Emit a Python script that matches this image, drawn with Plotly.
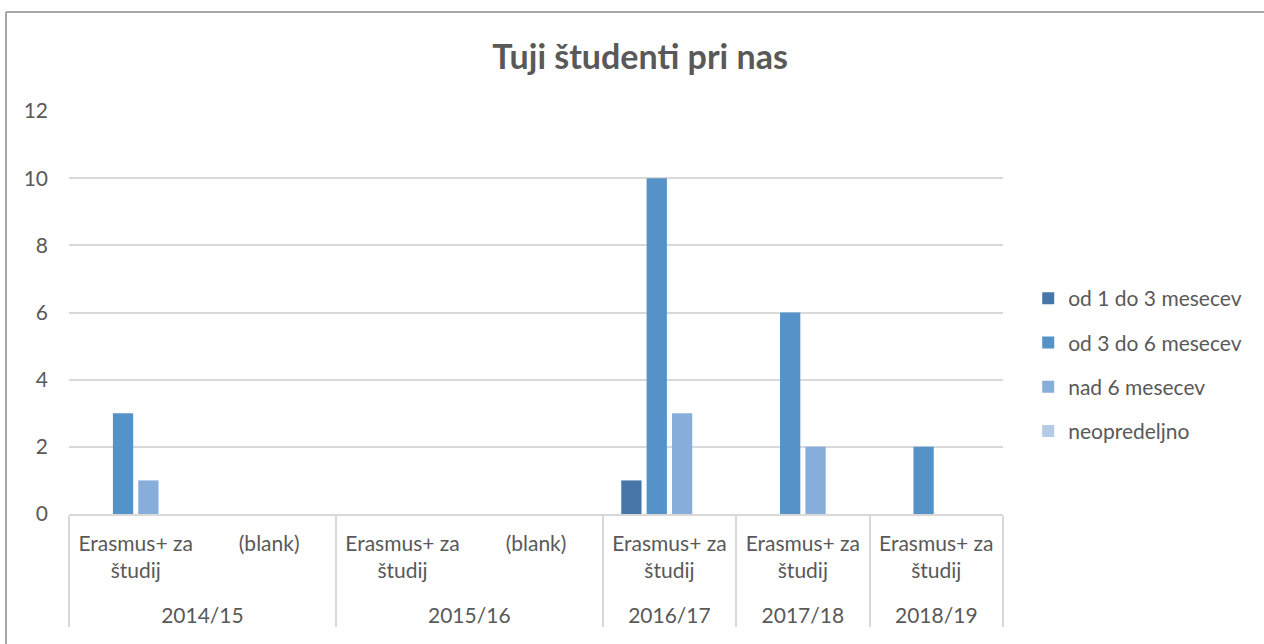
import plotly.graph_objects as go

years = ["2014/15", "2014/15", "2015/16", "2015/16", "2016/17", "2017/18", "2018/19"]
subcats = ["Erasmus+ za<br>študij<br>\u00a0", "(blank)", "Erasmus+ za<br>študij<br>\u00a0", "(blank)",
           "Erasmus+ za<br>študij<br>\u00a0", "Erasmus+ za<br>študij<br>\u00a0", "Erasmus+ za<br>študij<br>\u00a0"]

series_names = ["od 1 do 3 mesecev", "od 3 do 6 mesecev", "nad 6 mesecev", "neopredeljno"]
od1do3 = [None, None, None, None, 1, None, None]
od3do6 = [3, None, None, None, 10, 6, 2]
nad6 = [1, None, None, None, 3, 2, None]
neopredeljno = [None, None, None, None, None, None, None]
series_values = [od1do3, od3do6, nad6, neopredeljno]
colors = ["#4677A8", "#5592C8", "#87AEDB", "#B4CAE6"]

TXT = "#595959"
FONT = "Lato, 'Open Sans', sans-serif"
FS = 21

fig = go.Figure()
for name, vals, col in zip(series_names, series_values, colors):
    fig.add_trace(go.Bar(
        x=[years, subcats], y=vals, name=name,
        marker=dict(color=col, line=dict(width=0)),
        legendgroup=name,
    ))

fig.update_layout(
    width=1264, height=644,
    margin=dict(l=69, r=261, t=111, b=130),
    paper_bgcolor="white", plot_bgcolor="white",
    barmode="group", bargap=0.24, bargroupgap=0.2,
    font=dict(family=FONT, size=FS, color=TXT),
    title=dict(text="<b>Tuji študenti pri nas</b>", x=0.5064, xanchor="center",
               y=1 - 57 / 644, yanchor="middle", font=dict(size=34, color=TXT, family=FONT)),
    showlegend=True,
    legend=dict(x=1.027, xanchor="left", y=(514 - 365) / 403, yanchor="middle",
                font=dict(size=FS, color=TXT), tracegroupgap=14,
                bgcolor="rgba(0,0,0,0)"),
    xaxis=dict(type="multicategory", showline=True, linecolor="#D9D9D9", linewidth=1.5,
               showgrid=False, showdividers=True, dividercolor="#D9D9D9", dividerwidth=1.5,
               tickfont=dict(size=FS, color=TXT), ticks="", ticklabelstandoff=10),
    yaxis=dict(range=[0, 12], dtick=2, showgrid=True, gridcolor="#D9D9D9", gridwidth=1.5,
               zeroline=False, showline=False, tickfont=dict(size=FS, color=TXT),
               ticklabelstandoff=20),
)

# chart outer border (left and top edges visible)
fig.add_shape(type="line", xref="paper", yref="paper",
              x0=(6 - 69) / 934, x1=(6 - 69) / 934, y0=(514 - 12) / 403, y1=(514 - 700) / 403,
              line=dict(color="#A6A6A6", width=2))
fig.add_shape(type="line", xref="paper", yref="paper",
              x0=(6 - 69) / 934, x1=(1300 - 69) / 934, y0=(514 - 12) / 403, y1=(514 - 12) / 403,
              line=dict(color="#A6A6A6", width=2))

fig.write_html("out.html", config={"displayModeBar": False},
               post_script="document.body.style.margin='0';")
